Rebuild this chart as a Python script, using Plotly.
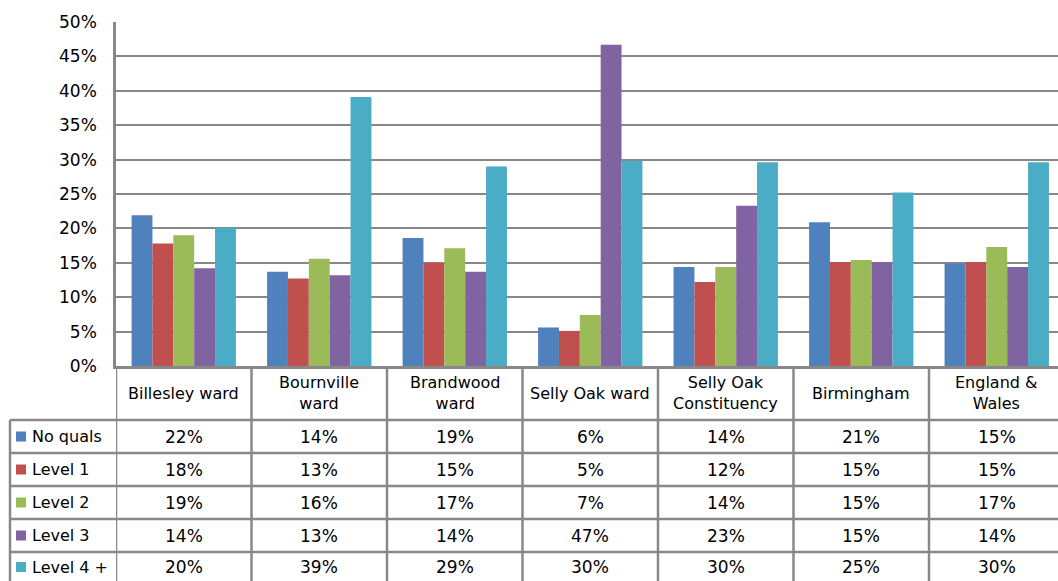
import plotly.graph_objects as go

# Highest qualification share by area (percent of residents aged 16+)
areas = [
    "Billesley ward", "Bournville<br>ward", "Brandwood<br>ward", "Selly Oak ward",
    "Selly Oak<br>Constituency", "Birmingham", "England &<br>Wales",
]
no_quals = [21.9, 13.7, 18.6, 5.6, 14.4, 20.9, 14.9]
level_1 = [17.8, 12.7, 15.0, 5.1, 12.2, 15.1, 15.1]
level_2 = [19.0, 15.6, 17.1, 7.4, 14.4, 15.4, 17.3]
level_3 = [14.2, 13.2, 13.7, 46.7, 23.3, 15.1, 14.4]
level_4 = [20.1, 39.1, 29.0, 29.8, 29.6, 25.2, 29.6]

series_names = ["No quals", "Level 1", "Level 2", "Level 3", "Level 4 +"]
series_values = [no_quals, level_1, level_2, level_3, level_4]
series_colours = ["#4F81BD", "#C0504D", "#9BBB59", "#8064A2", "#4BACC6"]

W, H = 1058, 581
PLOT_L, PLOT_T, PLOT_B = 116, 22, 366
PLOT_H = PLOT_B - PLOT_T
PLOT_W = W - PLOT_L
CAT_W = 135.5  # pixel width of one category column
GRID = "#888888"
FONT = "DejaVu Sans"


def py(y_px):
    """Pixel row -> paper y."""
    return (PLOT_B - y_px) / PLOT_H


def px(x_px):
    """Pixel column -> paper x."""
    return (x_px - PLOT_L) / PLOT_W


x_idx = list(range(len(areas)))

fig = go.Figure()
for name, vals, col in zip(series_names, series_values, series_colours):
    fig.add_trace(go.Bar(
        x=x_idx, y=vals, name=name,
        marker=dict(color=col, line=dict(width=0)),
        hovertemplate=f"{name}<br>%{{y:.1f}}%<extra></extra>",
    ))

# table grid lines
row_lines = [420, 453, 486, 519, 552]
bottom = py(H + 5)
for i in range(len(areas) + 1):
    fig.add_shape(type="line", xref="x", yref="paper",
                  x0=i - 0.5, x1=i - 0.5, y0=0, y1=bottom,
                  line=dict(color=GRID, width=2.5))
fig.add_shape(type="line", xref="paper", yref="paper",
              x0=px(10), x1=px(10), y0=py(row_lines[0]), y1=bottom,
              line=dict(color=GRID, width=2.5))
for r in row_lines:
    fig.add_shape(type="line", xref="paper", yref="paper",
                  x0=px(10), x1=1, y0=py(r), y1=py(r),
                  line=dict(color=GRID, width=2.5))

# header labels
for i, a in enumerate(areas):
    fig.add_annotation(x=i, y=py(393), xref="x", yref="paper", text=a,
                       showarrow=False, font=dict(size=16, color="#000"),
                       align="center", yanchor="middle")

# row labels and cell values
row_centres = [436.5, 469.5, 502.5, 535.5, 567]
for name, vals, col, yc in zip(series_names, series_values, series_colours, row_centres):
    fig.add_shape(type="rect", xref="paper", yref="paper",
                  x0=px(16), x1=px(26), y0=py(yc + 5), y1=py(yc - 5),
                  fillcolor=col, line=dict(width=0))
    fig.add_annotation(x=px(30), y=py(yc), xref="paper", yref="paper", text=name,
                       showarrow=False, xanchor="left", yanchor="middle",
                       font=dict(size=16, color="#000"))
    for i, v in enumerate(vals):
        fig.add_annotation(x=i, y=py(yc), xref="x", yref="paper", text=f"{round(v)}%",
                           showarrow=False, yanchor="middle",
                           font=dict(size=17, color="#000"))

fig.update_layout(
    width=W, height=H,
    margin=dict(l=PLOT_L, r=0, t=PLOT_T, b=H - PLOT_B, pad=0),
    paper_bgcolor="white", plot_bgcolor="white",
    barmode="group", bargap=0.23, bargroupgap=0,
    showlegend=False,
    font=dict(family=FONT, size=16, color="#000"),
    xaxis=dict(
        range=[-0.5, -0.5 + PLOT_W / CAT_W],
        showticklabels=False, showgrid=False, zeroline=False,
        showline=True, linecolor=GRID, linewidth=2.5,
        fixedrange=True,
    ),
    yaxis=dict(
        range=[0, 50], dtick=5, ticksuffix="%",
        showgrid=True, gridcolor=GRID, gridwidth=2,
        zeroline=False, showline=True, linecolor=GRID, linewidth=2.5,
        ticks="", ticklabelstandoff=13,
        tickfont=dict(size=17, family=FONT),
    ),
)

fig.write_html(
    "out.html",
    config={"displayModeBar": False},
    post_script="document.body.style.margin='0';",
)
